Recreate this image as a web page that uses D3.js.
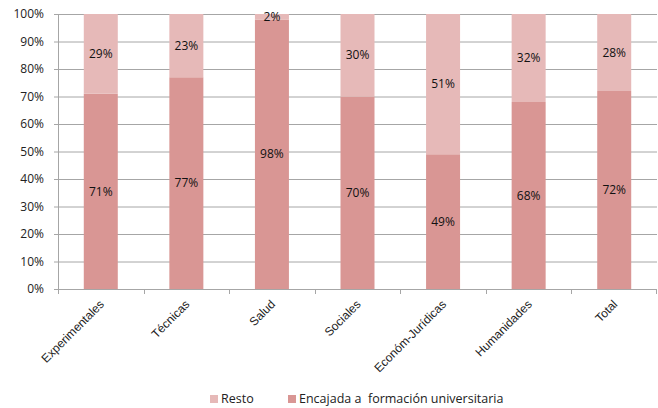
<!DOCTYPE html>
<html><head><meta charset="utf-8">
<script src="https://cdn.jsdelivr.net/npm/d3@7"></script>
<style>body{margin:0;background:#fff}svg{display:block}</style>
</head><body>
<svg id="c" width="658" height="408"></svg>
<script>
const categories = ["Experimentales","Técnicas","Salud","Sociales","Económ-Jurídicas","Humanidades","Total"];
const encajada = [71,77,98,70,49,68,72];
const resto = [29,23,2,30,51,32,28];
const yTicks = [0,10,20,30,40,50,60,70,80,90,100];
const seriesNames = ["Resto","Encajada a  formación universitaria"];
const colors = {enc:"#D99694", resto:"#E6B9B8"};

const svg = d3.select("#c");
const m = {l:58, r:1, t:14, b:119};
const W = 658, H = 408;
const xb = d3.scaleBand().domain(categories).range([m.l, W - m.r]);
const y = d3.scaleLinear().domain([0,100]).range([H - m.b, m.t]);

// gridlines
svg.append("g").selectAll("line").data(yTicks).join("line")
  .attr("x1", m.l - 4).attr("x2", W - m.r)
  .attr("y1", d => y(d)+0.5).attr("y2", d => y(d)+0.5)
  .attr("stroke", "#A6A6A6").attr("stroke-width", 1);

// y labels
svg.append("g").selectAll("text").data(yTicks).join("text")
  .attr("x", m.l - 14).attr("y", d => y(d)).attr("dy", "0.35em")
  .attr("text-anchor", "end").attr("font-family", "Open Sans, sans-serif").attr("font-size", 12)
  .attr("fill", "#222").text(d => d + "%");

const data = categories.map((c,i) => ({c, enc: encajada[i], resto: resto[i]}));
const bw = 34;
const g = svg.append("g");
g.selectAll("rect.e").data(data).join("rect").attr("class","e")
  .attr("x", d => xb(d.c) + xb.bandwidth()/2 - bw/2).attr("width", bw)
  .attr("y", d => y(d.enc)).attr("height", d => y(0) - y(d.enc)).attr("fill", colors.enc);
g.selectAll("rect.r").data(data).join("rect").attr("class","r")
  .attr("x", d => xb(d.c) + xb.bandwidth()/2 - bw/2).attr("width", bw)
  .attr("y", d => y(d.enc + d.resto)).attr("height", d => y(d.enc) - y(d.enc + d.resto)).attr("fill", colors.resto);

// axis lines
svg.append("line").attr("x1", m.l+0.5).attr("x2", m.l+0.5).attr("y1", y(100)).attr("y2", y(0)).attr("stroke", "#A6A6A6");
svg.append("line").attr("x1", m.l).attr("x2", W - m.r).attr("y1", y(0)+0.5).attr("y2", y(0)+0.5).attr("stroke", "#A6A6A6");
const bounds = categories.map(c => xb(c)).concat([W - m.r - 1]);
svg.append("g").selectAll("line").data(bounds).join("line")
  .attr("x1", d => Math.round(d)+0.5).attr("x2", d => Math.round(d)+0.5)
  .attr("y1", y(0)).attr("y2", y(0)+5).attr("stroke", "#A6A6A6");

// value labels
const lab = svg.append("g").attr("font-family", "Open Sans, sans-serif").attr("font-size", 12).attr("fill", "#111").attr("text-anchor", "middle");
lab.selectAll("text.e").data(data).join("text").attr("class","e")
  .attr("x", d => xb(d.c) + xb.bandwidth()/2).attr("y", d => y(d.enc/2)).attr("dy","0.35em").text(d => d.enc + "%");
lab.selectAll("text.r").data(data).join("text").attr("class","r")
  .attr("x", d => xb(d.c) + xb.bandwidth()/2).attr("y", d => y(d.enc + d.resto/2)).attr("dy","0.35em").text(d => d.resto + "%");

// category labels
svg.append("g").selectAll("text").data(categories).join("text")
  .attr("transform", d => `translate(${xb(d) + xb.bandwidth()/2 + 4},${y(0)+16}) rotate(-45)`)
  .attr("text-anchor", "end").attr("font-family", "Liberation Sans, Arial, sans-serif").attr("font-size", 12)
  .attr("fill", "#222").text(d => d);

// legend
const leg = svg.append("g").attr("font-family", "Open Sans, sans-serif").attr("font-size", 12.5).attr("fill", "#222");
const legX = [210, 288];
const legC = [colors.resto, colors.enc];
seriesNames.forEach((n,i) => {
  leg.append("rect").attr("x", legX[i]).attr("y", 395).attr("width", 8).attr("height", 8).attr("fill", legC[i]);
  leg.append("text").attr("x", legX[i] + 11).attr("y", 403).attr("xml:space", "preserve").style("white-space", "pre").text(n);
});
</script>
</body></html>
